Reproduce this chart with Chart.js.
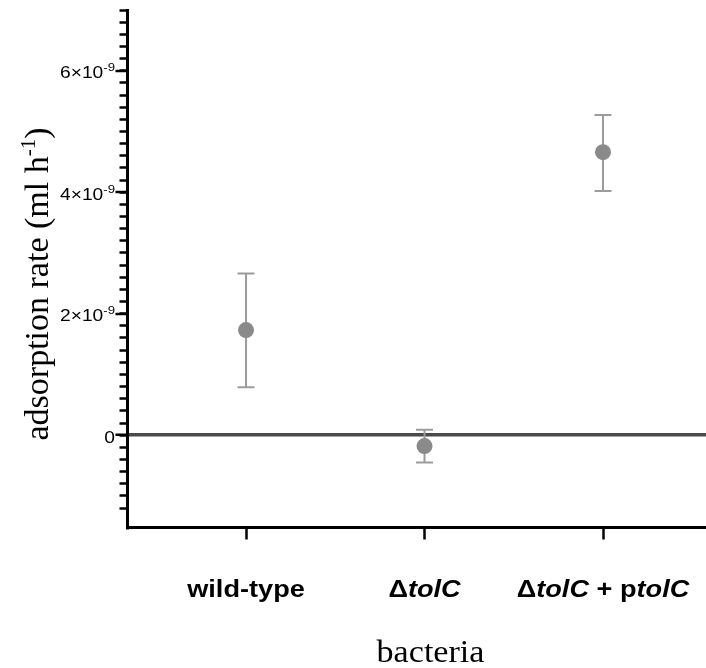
<!DOCTYPE html>
<html>
<head>
<meta charset="utf-8">
<script src="https://cdn.jsdelivr.net/npm/chart.js@4.4.0/dist/chart.umd.min.js"></script>
<style>
  html, body { margin: 0; padding: 0; background: #fff; overflow: hidden; }
  canvas { display: block; }
</style>
</head>
<body>
<canvas id="c" width="706" height="668"></canvas>
<script>
// adsorption rate per strain, in units of 1e-9 ml/h (mean and error bar ends)
const strains = ["wild-type", "ΔtolC", "ΔtolC + ptolC"];
const xPos = [1, 2, 3];
const rate = [1.73, -0.18, 4.66];
const rateHi = [2.66, 0.09, 5.27];
const rateLo = [0.79, -0.45, 4.02];

// axis setup
const yRange = [-1.52, 7.0];
const xRange = [0.336, 3.577];
const majorTicks = [0, 2, 4, 6];
const majorLabels = [["0", ""], ["2×10", "-9"], ["4×10", "-9"], ["6×10", "-9"]];
const minorStep = 0.2;

// strain names split into upright / italic runs
const strainParts = [
  [["wild-type", 0]],
  [["Δ", 0], ["tolC", 1]],
  [["Δ", 0], ["tolC", 1], [" + p", 0], ["tolC", 1]],
];

const SANS = '"Liberation Sans", Arial, Helvetica, sans-serif';
const SERIF = '"Liberation Serif", "Times New Roman", Times, serif';
const DOT = "#8a8a8a", BAR = "#9c9c9c";

// draw a run of differently styled pieces, stretched horizontally by sx
function drawRun(ctx, pieces, x, y, align, sx) {
  let w = 0;
  pieces.forEach((p) => { ctx.font = p.font; w += ctx.measureText(p.text).width; });
  ctx.save();
  ctx.translate(x, y);
  ctx.scale(sx, 1);
  let cx = align === "center" ? -w / 2 : align === "right" ? -w : 0;
  ctx.textAlign = "left";
  ctx.textBaseline = "alphabetic";
  pieces.forEach((p) => {
    ctx.font = p.font;
    ctx.fillText(p.text, cx, p.dy || 0);
    cx += ctx.measureText(p.text).width;
  });
  ctx.restore();
}

// scales carry no labels of their own, so drop the label overhang padding
function noPad(s) {
  s.paddingLeft = s.paddingRight = s.paddingTop = s.paddingBottom = 0;
}

const errorBars = {
  id: "errorBars",
  beforeDatasetsDraw(chart) {
    const { ctx, scales: { x, y } } = chart;
    ctx.save();
    ctx.strokeStyle = BAR;
    ctx.lineWidth = 2;
    xPos.forEach((v, i) => {
      const px = x.getPixelForValue(v);
      const hi = y.getPixelForValue(rateHi[i]);
      const lo = y.getPixelForValue(rateLo[i]);
      ctx.beginPath();
      ctx.moveTo(px, hi); ctx.lineTo(px, lo);
      ctx.moveTo(px - 8.5, hi); ctx.lineTo(px + 8.5, hi);
      ctx.moveTo(px - 8.5, lo); ctx.lineTo(px + 8.5, lo);
      ctx.stroke();
    });
    ctx.restore();
  },
};

const axisText = {
  id: "axisText",
  afterDraw(chart) {
    const { ctx, scales: { x, y } } = chart;
    ctx.fillStyle = "#000";

    // y tick labels with superscript exponent
    majorTicks.forEach((v, i) => {
      const py = y.getPixelForValue(v);
      const [base, exp] = majorLabels[i];
      const pieces = [{ text: base, font: `16px ${SANS}`, dy: 7.5 }];
      if (exp) pieces.push({ text: exp, font: `11px ${SANS}`, dy: 0.5 });
      drawRun(ctx, pieces, 115, py, "right", 1.2);
    });

    // strain names under the x ticks
    xPos.forEach((v, i) => {
      const pieces = strainParts[i].map(([t, it]) => ({
        text: t, font: `${it ? "italic " : ""}bold 23px ${SANS}`,
      }));
      drawRun(ctx, pieces, x.getPixelForValue(v), 597, "center", 1.18);
    });

    // axis titles
    drawRun(ctx, [{ text: "bacteria", font: `31px ${SERIF}` }],
      x.getPixelForValue(2) + 6, 662, "center", 1.1);

    ctx.save();
    ctx.translate(48, 284);
    ctx.rotate(-Math.PI / 2);
    drawRun(ctx, [
      { text: "adsorption rate (ml h", font: `34px ${SERIF}` },
      { text: "-1", font: `21px ${SERIF}`, dy: -13 },
      { text: ")", font: `34px ${SERIF}` },
    ], 0, 0, "center", 1);
    ctx.restore();
  },
};

new Chart(document.getElementById("c"), {
  type: "scatter",
  data: {
    datasets: [{
      label: "adsorption rate",
      data: xPos.map((v, i) => ({ x: v, y: rate[i] })),
      pointRadius: 8, pointHoverRadius: 8,
      backgroundColor: DOT, borderWidth: 0,
    }],
  },
  options: {
    responsive: false, animation: false, devicePixelRatio: 1,
    layout: { autoPadding: false, padding: { top: 10, right: 0, left: 0, bottom: 0 } },
    plugins: { legend: { display: false }, tooltip: { enabled: false } },
    scales: {
      x: {
        type: "linear", min: xRange[0], max: xRange[1],
        afterBuildTicks: (s) => { s.ticks = xPos.map((v) => ({ value: v })); },
        afterFit: (s) => { s.height = 140.5; noPad(s); },
        border: { color: "#000", width: 3 },
        grid: { drawOnChartArea: false, tickLength: 12, tickWidth: 2.5, tickColor: "#000" },
        ticks: { callback: () => "", padding: 0 },
      },
      y: {
        type: "linear", position: "left", weight: 1,
        min: yRange[0], max: yRange[1],
        afterBuildTicks: (s) => { s.ticks = majorTicks.map((v) => ({ value: v })); },
        afterFit: (s) => { s.width = 127.5; noPad(s); },
        border: { color: "#000", width: 3 },
        grid: {
          color: (c) => (c.tick && c.tick.value === 0 ? "#4a4a4a" : "rgba(0,0,0,0)"),
          lineWidth: (c) => (c.tick && c.tick.value === 0 ? 3.5 : 0),
          tickLength: 12, tickWidth: 2.5, tickColor: "#000",
        },
        ticks: { callback: () => "", padding: 0 },
      },
      yMinor: {
        type: "linear", position: "left", weight: 0,
        min: yRange[0], max: yRange[1],
        afterBuildTicks: (s) => {
          s.ticks = s.ticks.filter((t) => Math.abs(t.value / minorStep - Math.round(t.value / minorStep)) < 1e-6);
        },
        afterFit: (s) => { s.width = 0; noPad(s); },
        border: { color: "#000", width: 3 },
        grid: { drawOnChartArea: false, tickLength: 8, tickWidth: 2.5, tickColor: "#000" },
        ticks: { stepSize: minorStep, autoSkip: false, callback: () => "", padding: 0 },
      },
    },
  },
  plugins: [errorBars, axisText],
});
</script>
</body>
</html>
